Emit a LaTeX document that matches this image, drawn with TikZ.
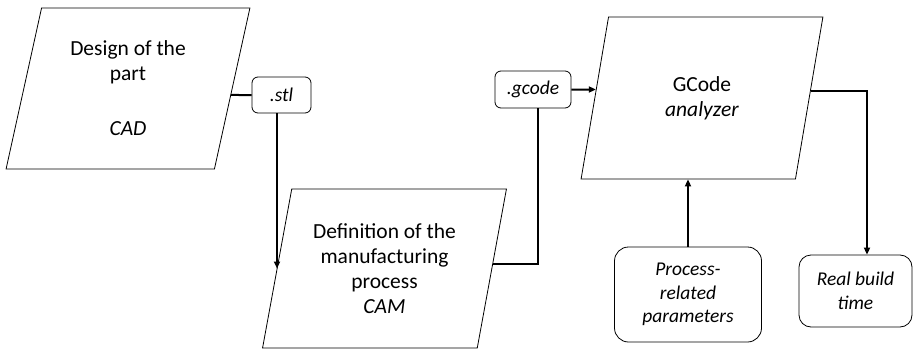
\documentclass[tikz,border=0pt]{standalone}
\usepackage{fontspec}
\setmainfont{Carlito}
\usetikzlibrary{shapes.geometric, arrows.meta, calc}

\begin{document}
\begin{tikzpicture}[x=1pt, y=-1pt,
    para/.style={draw, line width=0.8pt, trapezium, trapezium left angle=76,
        trapezium right angle=104, trapezium stretches=true,
        minimum height=161pt, minimum width=244pt, inner sep=0pt,
        align=center, font=\fontsize{21.5}{25}\selectfont},
    file/.style={draw, line width=0.8pt, rounded corners=6pt, inner sep=0pt,
        align=center, font=\fontsize{19.5}{23.5}\selectfont\itshape},
    result/.style={file, rounded corners=14pt},
    link/.style={line width=2pt},
    >={Triangle[length=7pt, width=6pt]}]
    \useasboundingbox (0,0) rectangle (914,351);

    \node[para] (design) at (128,88.5) {Design of the\\part\\[30pt]\textit{CAD}};
    \node[file, minimum width=59pt, minimum height=36pt] (stl) at (281.5,95) {.stl};
    \node[para, minimum height=159pt] (defn) at (384.5,268.5)
        {Definition of the\\manufacturing\\process\\\textit{CAM}};
    \node[file, minimum width=76pt, minimum height=37pt] (gcode) at (533,89.5) {.gcode};
    \node[para, minimum height=162pt] (analyzer) at (702,98) {GCode\\\textit{analyzer}};
    \node[result, minimum width=147pt, minimum height=95pt] (process) at (688,294.5)
        {Process-\\related\\parameters};
    \node[result, rounded corners=12pt, minimum width=113pt, minimum height=72pt]
        (realtime) at (855.5,291) {Real build\\time};

    \draw[link] (stl.west) -- (intersection of design.top right corner--design.bottom right corner
        and stl.west--stl.east);
    \draw[link, ->] ([xshift=-4.5pt]stl.south) -- ([xshift=-4.5pt]stl.south |- defn.east);
    \draw[link] ([xshift=5pt]gcode.south) |- ($(defn.top right corner)!.47!(defn.bottom right corner)$);
    \draw[link, ->] (gcode.east) -- (intersection of analyzer.top left corner--analyzer.bottom left corner
        and gcode.west--gcode.east);
    \draw[link, ->] (process.north) -- (process.north |- analyzer.south);
    \draw[link, ->] ($(analyzer.top right corner)!.457!(analyzer.bottom right corner)$)
        -| ([xshift=11.5pt]realtime.north);
\end{tikzpicture}
\end{document}
